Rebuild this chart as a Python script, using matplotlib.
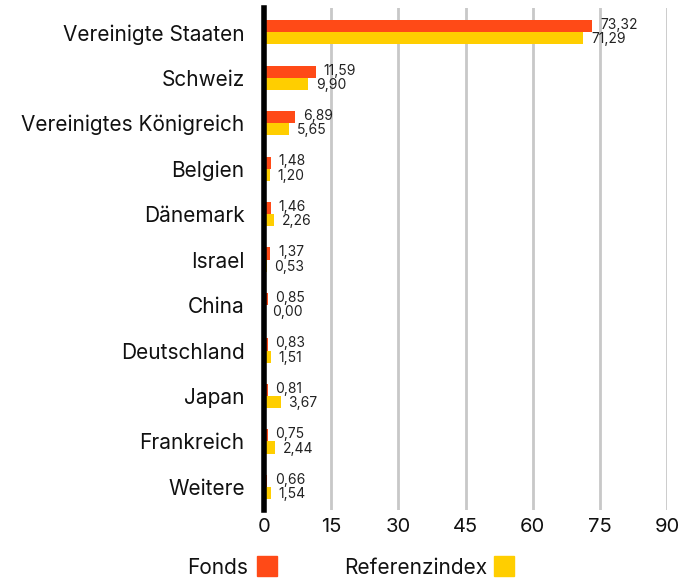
import matplotlib.pyplot as plt
from matplotlib.patches import Rectangle
import numpy as np

plt.rcParams['font.family'] = ['Inter', 'DejaVu Sans']

# Länderallokation in %
countries = ['Vereinigte Staaten', 'Schweiz', 'Vereinigtes Königreich', 'Belgien',
             'Dänemark', 'Israel', 'China', 'Deutschland', 'Japan', 'Frankreich', 'Weitere']
fonds = [73.32, 11.59, 6.89, 1.48, 1.46, 1.37, 0.85, 0.83, 0.81, 0.75, 0.66]
referenz = [71.29, 9.90, 5.65, 1.20, 2.26, 0.53, 0.00, 1.51, 3.67, 2.44, 1.54]
ticks = [0, 15, 30, 45, 60, 75, 90]

red = '#FF4A17'
yellow = '#FFCE00'

fig = plt.figure(figsize=(6.97, 5.83), dpi=100)
ax = fig.add_axes([0.379, 0.125, 0.578, 0.861])

y = np.arange(len(countries))
h = 0.267
ax.barh(y - h / 2, fonds, height=h, color=red, zorder=3)
ax.barh(y + h / 2, referenz, height=h, color=yellow, zorder=3)

def fmt(v):
    return f'{v:.2f}'.replace('.', ',')

for yi, f, r in zip(y, fonds, referenz):
    ax.annotate(fmt(f), (f, yi - h / 2), xytext=(5.5, 0.8), textcoords='offset points',
                va='center', ha='left', fontsize=10, color='#222222')
    ax.annotate(fmt(r), (r, yi + h / 2), xytext=(5.5, -0.8), textcoords='offset points',
                va='center', ha='left', fontsize=10, color='#222222')

ax.set_xlim(0, 90)
ax.set_ylim(10.51, -0.53)
ax.set_xticks(ticks)
ax.set_xticklabels([str(t) for t in ticks], fontsize=14.5, color='#111111')
ax.set_yticks(y)
ax.set_yticklabels(countries, fontsize=15, color='#111111')
ax.tick_params(axis='y', length=0, pad=14)
ax.tick_params(axis='x', length=0, pad=6)

ax.grid(axis='x', color='#c8c8c8', linewidth=2, zorder=0)
for s in ['top', 'right', 'bottom']:
    ax.spines[s].set_visible(False)
ax.spines['left'].set_linewidth(4)
ax.spines['left'].set_color('black')
ax.spines['left'].set_zorder(4)

# Legende unten
fig.text(248 / 697, 1 - 568 / 583, 'Fonds', ha='right', va='center', fontsize=15, color='#111111')
fig.patches.append(Rectangle((257 / 697, 1 - 576 / 583), 20 / 697, 20 / 583,
                             transform=fig.transFigure, color=red))
fig.text(487 / 697, 1 - 568 / 583, 'Referenzindex', ha='right', va='center', fontsize=15, color='#111111')
fig.patches.append(Rectangle((494 / 697, 1 - 576 / 583), 20 / 697, 20 / 583,
                             transform=fig.transFigure, color=yellow))

fig.savefig('out.png', dpi=100)
